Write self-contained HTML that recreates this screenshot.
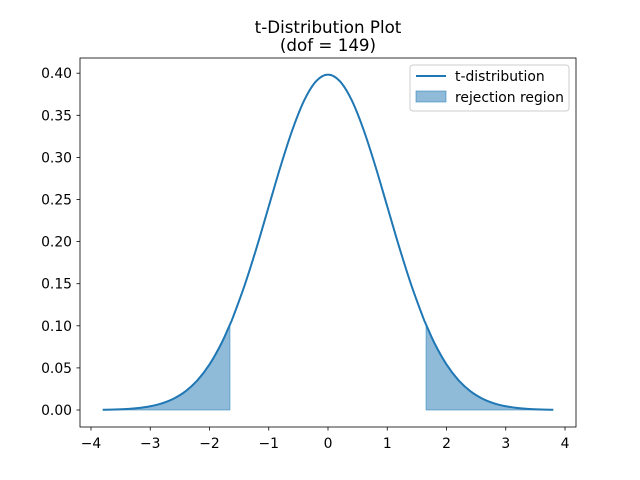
<!DOCTYPE html>
<html><head><meta charset="utf-8"><style>
body{margin:0;background:#fff}
svg{display:block;font-family:"DejaVu Sans","Liberation Sans",sans-serif}
</style></head><body>
<svg width="640" height="480" viewBox="0 0 640 480">
<rect width="640" height="480" fill="#fff"/>
<g id="plot"></g>
</svg>
<script>
const xs=[-3.8,-3.6,-3.4,-3.2,-3.0,-2.8,-2.6,-2.4,-2.2,-2.0,-1.8,-1.655,-1.6,-1.4,-1.2,-1.0,-0.8,-0.6,-0.4,-0.2,0,0.2,0.4,0.6,0.8,1.0,1.2,1.4,1.6,1.655,1.8,2.0,2.2,2.4,2.6,2.8,3.0,3.2,3.4,3.6,3.8];
const ys=[0.0003,0.0006,0.0012,0.0024,0.0045,0.0080,0.0137,0.0225,0.0356,0.0541,0.0790,0.1015,0.1108,0.1496,0.1940,0.2418,0.2895,0.3329,0.3679,0.3905,0.3983,0.3905,0.3679,0.3329,0.2895,0.2418,0.1940,0.1496,0.1108,0.1015,0.0790,0.0541,0.0356,0.0225,0.0137,0.0080,0.0045,0.0024,0.0012,0.0006,0.0003];
const critical=1.655;
const xTicks=[-4,-3,-2,-1,0,1,2,3,4];
const yTicks=[0,0.05,0.10,0.15,0.20,0.25,0.30,0.35,0.40];
const X=v=>328+v*59.25, Y=v=>410-v*842;
const ns="http://www.w3.org/2000/svg", g=document.getElementById('plot');
function mk(t,a,txt){const e=document.createElementNS(ns,t);for(const k in a)e.setAttribute(k,a[k]);if(txt!=null)e.textContent=txt;g.appendChild(e);return e;}
function path(pts){let d='M'+pts[0][0]+','+pts[0][1];for(let i=0;i<pts.length-1;i++){const p0=pts[Math.max(i-1,0)],p1=pts[i],p2=pts[i+1],p3=pts[Math.min(i+2,pts.length-1)];d+=' C'+(p1[0]+(p2[0]-p0[0])/6)+','+(p1[1]+(p2[1]-p0[1])/6)+' '+(p2[0]-(p3[0]-p1[0])/6)+','+(p2[1]-(p3[1]-p1[1])/6)+' '+p2[0]+','+p2[1];}return d;}
const pts=xs.map((x,i)=>[X(x),Y(ys[i])]);
const left=pts.filter((p,i)=>xs[i]<=-critical), right=pts.filter((p,i)=>xs[i]>=critical);
[[left,'rejection-left'],[right,'rejection-right']].forEach(([pp,n])=>{
 const d=path(pp)+' L'+pp[pp.length-1][0]+','+Y(0)+' L'+pp[0][0]+','+Y(0)+' Z';
 const e=mk('path',{d:d,fill:'#1f77b4','fill-opacity':0.5,stroke:'#1f77b4','stroke-opacity':0.5,'stroke-width':1});
 
 
});
const line=mk('path',{d:path(pts),fill:'none',stroke:'#1f77b4','stroke-width':2});


const fr=mk('rect',{x:80,y:58,width:496,height:369,fill:'none',stroke:'#000','stroke-width':0.8});


xTicks.forEach(t=>{mk('line',{x1:X(t),x2:X(t),y1:427,y2:430.5,stroke:'#000','stroke-width':0.8});
 const e=mk('text',{x:X(t),y:444,'font-size':13.9,'text-anchor':'middle','dominant-baseline':'middle'},t<0?'\u2212'+(-t):String(t));
 
 });
yTicks.forEach(t=>{mk('line',{x1:76.5,x2:80,y1:Y(t),y2:Y(t),stroke:'#000','stroke-width':0.8});
 const e=mk('text',{x:72,y:Y(t)+1,'font-size':13.9,'text-anchor':'end','dominant-baseline':'middle'},t.toFixed(2));
 
 });
const t1=mk('text',{x:328,y:33,'font-size':16.7,'text-anchor':'middle'},'t-Distribution Plot');


const t2=mk('text',{x:328,y:51,'font-size':16.7,'text-anchor':'middle'},'(dof = 149)');


const lb=mk('rect',{x:410,y:65,width:159,height:46,rx:3,fill:'#fff','fill-opacity':0.8,stroke:'#ccc','stroke-width':1});


mk('line',{x1:416,x2:446,y1:76,y2:76,stroke:'#1f77b4','stroke-width':2});
const l1=mk('text',{x:455,y:81,'font-size':13.9},'t-distribution');


mk('rect',{x:416,y:91,width:30,height:11,fill:'#1f77b4','fill-opacity':0.5,stroke:'#1f77b4','stroke-opacity':0.5});
const l2=mk('text',{x:455,y:102,'font-size':13.9},'rejection region');


</script>
</body></html>
